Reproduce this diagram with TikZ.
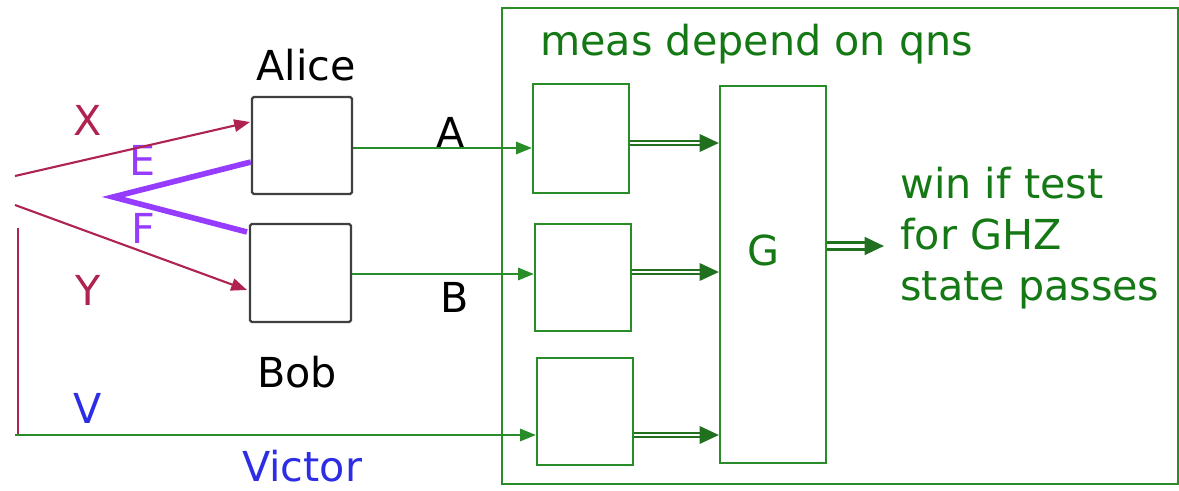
\documentclass[tikz,border=0pt]{standalone}
\usepackage{fontspec}
\setmainfont{DejaVu Sans}
\usetikzlibrary{arrows.meta}
\definecolor{qred}{RGB}{175,35,80}
\definecolor{qpurple}{RGB}{150,60,255}
\definecolor{qgreen}{RGB}{40,140,40}
\definecolor{qtext}{RGB}{20,120,20}
\definecolor{qblue}{RGB}{45,45,230}
\tikzset{
  lab/.style={font=\fontsize{23.5}{29}\selectfont, inner sep=0pt},
  party/.style={draw=black!75, line width=1.3pt, rounded corners=1pt},
  gbox/.style={draw=qgreen, line width=1.3pt},
  tip/.style={-{Triangle[length=9pt,width=7pt]}},
  dbl/.style={qgreen!80!black, double=white, double distance=1.3pt, line width=1.1pt, -{Triangle[length=11pt,width=10pt]}}
}
\begin{document}
\begin{tikzpicture}[x=0.02cm, y=-0.02cm]
	\useasboundingbox (0,0) rectangle (1179,490);
	
	% referee side
	\draw[gbox] (502,8) rectangle (1178,484);
	\node[lab, text=qtext, anchor=west] (meas) at (540,44) {meas depend on qns};
	
	\node[gbox, minimum width=1.92cm, minimum height=2.18cm] (box1) at (581,138.5) {};
	\node[gbox, minimum width=1.92cm, minimum height=2.14cm] (box2) at (583,277.5) {};
	\node[gbox, minimum width=1.92cm, minimum height=2.14cm] (box3) at (585,411.5) {};
	\node[gbox, minimum width=2.12cm, minimum height=7.54cm] (G) at (773,274.5) {};
	\node[lab, text=qtext] (Glab) at (763,250) {G};
	
	\node[lab, text=qtext, anchor=west, align=left] (win) at (900,238) {win if test\\for GHZ\\state passes};
	
	% players
	\node[party, minimum width=2cm, minimum height=1.94cm] (Alice) at (302,145.5) {};
	\node[party, minimum width=2.02cm, minimum height=1.96cm] (Bob) at (300.5,273) {};
	\node[lab] (alab) at (306,65) {Alice};
	\node[lab] (blab) at (297,372) {Bob};
	\node[lab, text=qblue] (vlab) at (302,466) {Victor};
	
	\node[lab, text=qred] (X) at (88,120) {X};
	\node[lab, text=qred] (Y) at (88,290) {Y};
	\node[lab, text=qblue] (V) at (88,408) {V};
	\node[lab, text=qpurple] (E) at (143,160) {E};
	\node[lab, text=qpurple] (F) at (143,228) {F};
	\node[lab] (A) at (451,132) {A};
	\node[lab] (B) at (455,297) {B};
	
	% questions
	\coordinate (xs) at (15,176);
	\coordinate (xe) at (250,122);
	\coordinate (ys) at (15,205);
	\coordinate (ye) at (247,290);
	\draw[qred, line width=1.2pt, tip] (xs) -- (xe);
	\draw[qred, line width=1.2pt, tip] (ys) -- (ye);
	\draw[qred, line width=1.3pt] (18,228) -- (18,435);
	
	% shared state
	\coordinate (ef) at (113,197);
	\draw[qpurple, line width=3.2pt] (Alice.west |- 0,162) -- (ef) -- (247,232);
	
	% answers
	\coordinate (vs) at (15,435);
	\draw[qgreen, line width=1.2pt, tip] (Alice.east |- 0,148) -- (box1.west |- 0,148);
	\draw[qgreen, line width=1.2pt, tip] (Bob.east |- 0,274) -- (box2.west |- 0,274);
	\draw[qgreen, line width=1.2pt, tip] (vs) -- (vs -| box3.west);
	
	\draw[dbl] (box1.east |- 0,143) -- (G.west |- 0,143);
	\draw[dbl] (box2.east |- 0,272) -- (G.west |- 0,272);
	\draw[dbl] (box3.east |- vs) -- (G.west |- vs);
	\draw[dbl, line width=1.6pt, double distance=2pt] (G.east |- 0,246) -- (884,246);
\end{tikzpicture}
\end{document}
